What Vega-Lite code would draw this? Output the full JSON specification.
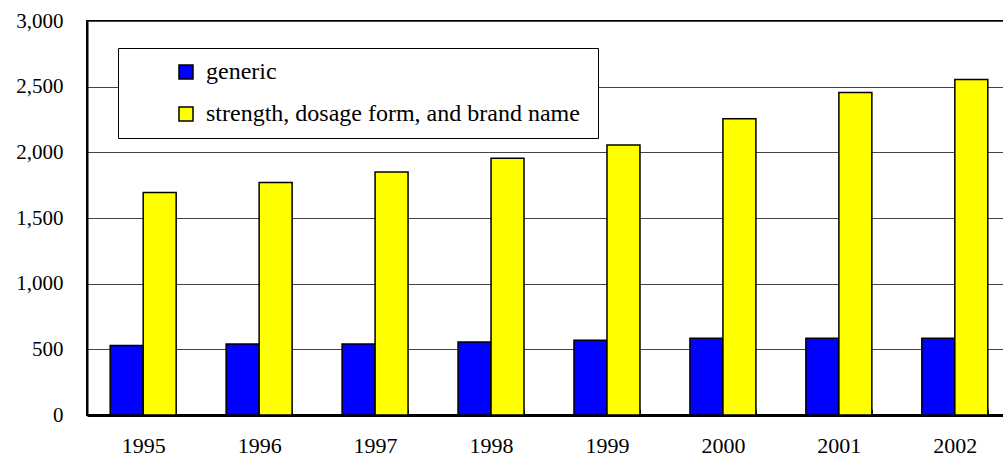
{
  "$schema": "https://vega.github.io/schema/vega-lite/v6.json",
  "autosize": {"type": "none"},
  "padding": {"left": 87, "top": 21, "right": 0, "bottom": 45},
  "width": 924,
  "height": 394,
  "background": "white",
  "config": {
    "view": {"stroke": "black", "strokeWidth": 2},
    "font": "Liberation Serif",
    "legend": {"labelFont": "Liberation Serif", "labelFontSize": 24},
    "axis": {"labelFont": "Liberation Serif"}
  },
  "data": {
    "values": [
      {"year": "1995", "type": "generic", "value": 530},
      {"year": "1995", "type": "strength, dosage form, and  brand name", "value": 1695},
      {"year": "1996", "type": "generic", "value": 540},
      {"year": "1996", "type": "strength, dosage form, and  brand name", "value": 1770},
      {"year": "1997", "type": "generic", "value": 540},
      {"year": "1997", "type": "strength, dosage form, and  brand name", "value": 1850},
      {"year": "1998", "type": "generic", "value": 555},
      {"year": "1998", "type": "strength, dosage form, and  brand name", "value": 1955},
      {"year": "1999", "type": "generic", "value": 570},
      {"year": "1999", "type": "strength, dosage form, and  brand name", "value": 2055},
      {"year": "2000", "type": "generic", "value": 585},
      {"year": "2000", "type": "strength, dosage form, and  brand name", "value": 2255},
      {"year": "2001", "type": "generic", "value": 585},
      {"year": "2001", "type": "strength, dosage form, and  brand name", "value": 2455},
      {"year": "2002", "type": "generic", "value": 585},
      {"year": "2002", "type": "strength, dosage form, and  brand name", "value": 2555}
    ]
  },
  "mark": {"type": "bar", "stroke": "black", "strokeWidth": 1.5},
  "encoding": {
    "x": {
      "field": "year",
      "type": "nominal",
      "scale": {"paddingInner": 0.431, "paddingOuter": 0.2},
      "axis": {
        "title": null,
        "labelAngle": 0,
        "labelFont": "Liberation Serif",
        "labelFontSize": 22,
        "labelColor": "black",
        "labelPadding": 26,
        "tickBand": "extent",
        "tickSize": -6,
        "tickColor": "#333",
        "tickWidth": 1,
        "domainColor": "black",
        "domainWidth": 3,
        "grid": false
      }
    },
    "xOffset": {"field": "type", "type": "nominal", "scale": {"paddingInner": 0, "paddingOuter": 0}},
    "y": {
      "field": "value",
      "type": "quantitative",
      "scale": {"domain": [0, 3000], "nice": false},
      "axis": {
        "title": null,
        "values": [0, 500, 1000, 1500, 2000, 2500, 3000],
        "format": ",d",
        "ticks": false,
        "labelFont": "Liberation Serif",
        "labelFontSize": 21,
        "labelColor": "black",
        "labelPadding": 24,
        "domainColor": "black",
        "domainWidth": 2,
        "grid": true,
        "gridColor": "#444",
        "gridWidth": 1
      }
    },
    "fill": {
      "field": "type",
      "type": "nominal",
      "scale": {"range": ["#0000FF", "#FFFF00"]},
      "legend": {
        "title": null,
        "orient": "none",
        "legendX": 31,
        "legendY": 27,
        "direction": "vertical",
        "fillColor": "white",
        "strokeColor": "black",
        "padding": 12,
        "symbolType": "square",
        "symbolSize": 196,
        "symbolStrokeColor": "black",
        "symbolStrokeWidth": 1.5,
        "symbolOffset": 44,
        "labelOffset": 8,
        "labelFont": "Liberation Serif",
        "labelFontSize": 24,
        "labelColor": "black",
        "labelLimit": 600,
        "rowPadding": 18
      }
    }
  }
}
